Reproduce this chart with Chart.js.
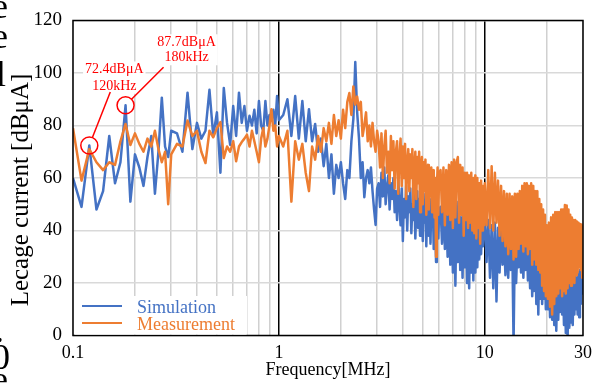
<!DOCTYPE html>
<html>
<head>
<meta charset="utf-8">
<script src="https://cdn.jsdelivr.net/npm/chart.js@4.4.1/dist/chart.umd.min.js"></script>
<style>
html,body{margin:0;padding:0;background:#fff;}
#wrap{position:relative;width:604px;height:385px;overflow:hidden;background:#fff;}
#c{position:absolute;left:0;top:0;}
.frag{position:absolute;font-family:"Liberation Serif",serif;font-size:36px;line-height:36px;color:#000;white-space:nowrap;}
</style>
</head>
<body>
<div id="wrap">
<canvas id="c" width="604" height="385"></canvas>
<span class="frag" style="left:-8px;top:-12px">e</span>
<span class="frag" style="left:-8px;top:18px">e</span>
<span class="frag" style="left:-4px;top:56px">l</span>
<span class="frag" style="left:-5px;top:312px">.</span>
<span class="frag" style="left:-8px;top:339px">0</span>
<span class="frag" style="left:-8px;top:361px">e</span>
</div>
<script>
// ---------------- data ----------------
const seriesNames = ['Simulation', 'Measurement'];

const freqA = [0.10,0.11,0.12,0.13,0.14,0.15,0.16,0.17,0.18,0.19,0.20,0.21,0.22,0.23,0.24,0.25,0.26,0.27,0.28,0.29,0.30];
const simA  = [60,49,72.4,48,55,76,58,66,87.7,51,69,64,57,68,76,54,70,90.6,72,68,78];
const measA = [79,59,71,66,63,66,65,74,80.6,72.6,77,73,70,75,72,78,71,66,70,50,69];

const freqB = [0.32,0.34,0.36,0.38,0.40,0.42,0.44,0.46,0.48,0.50,0.52,0.54,0.56,0.58,0.60,0.62,0.64,0.66,0.68,0.70,0.72,0.74,0.76,0.78,0.80,0.82,0.84,0.86,0.88,0.90,0.92,0.94,0.96,0.98,1.00];
const simB  = [77,70,92.5,71,81,75,78,93.6,76,85,62,94.3,81,72.6,87.4,76,92.5,81,87.4,78,83.7,80,86,77,89.3,80,78,89.3,80,84,82,86,80,91.2,82];
const measB = [73,72,81.9,76,78,70,65.7,78,75.5,79,81.3,67.6,72,70,74,66.4,72,73.7,75,76.5,72,78,74,70,66,75,79,72,75,80,86.2,78,80,72,76];

const freqC = [1.05,1.10,1.15,1.20,1.25,1.30,1.35,1.40,1.45,1.50,1.55,1.60,1.65,1.70,1.75,1.80,1.85,1.90,1.95,2.00,2.05,2.10,2.15,2.20,2.25,2.30,2.35,2.40,2.45,2.50,2.55,2.60,2.65,2.70,2.75,2.80,2.85,2.90,2.95,3.00];
const simC  = [84,90,76,91.2,75,89.3,74,86.2,74,80.6,70,75,64.5,73,60,69,54,65,60,66,58,52,63,60,74,82.5,104.2,85,75,60,66,52.7,60,63,58,64,55,48,42.1,56];
const measC = [72,78,51,74,67,73,62,55,72,67,76,70,79,74,81,73,84,76,82,75,86,79,89,92.4,84,94.9,88,91,86,89,76,80,85,74,80,72,81,74,70,78];

const freqD = [3.05,3.10,3.15,3.20,3.25,3.30,3.35,3.40,3.45,3.50,3.55,3.60,3.65,3.70,3.75,3.80,3.85,3.90,3.95,4.00,
               4.05,4.10,4.15,4.20,4.25,4.30,4.35,4.40,4.45,4.50,4.55,4.60,4.65,4.70,4.75,4.80,4.85,4.90,4.95,5.00,
               5.05,5.10,5.15,5.20,5.25,5.30,5.35,5.40,5.45,5.50,5.55,5.60,5.65,5.70,5.75,5.80,5.85,5.90,5.95,6.00];
const simD  = [58,49,62,53,64,50,57,61,48,58,52,60,47,55,44,59,50,42,56,36,
               52,45,57,40,53,47,56,39,50,44,54,37,49,55,41,52,38,48,53,36,
               50,43,54,34,48,51,38,50,35,52,42,48,33,50,40,28,47,51,37,48];
const measD = [74,64,77,60,72,78,62,70,58,76,63,74,56,70,74,54,68,75,57,72,
               60,73,52,66,71,55,69,60,71,49,64,70,52,68,58,70,47,63,68,50,
               66,55,67,46,60,65,48,62,53,64,47,58,63,45,60,30,56,64,46,62];

const freqE = [6.1,6.2,6.3,6.4,6.5,6.6,6.7,6.8,6.9,7.0,7.1,7.2,7.3,7.4,7.5,7.6,7.7,7.8,7.9,8.0,8.1,8.2,8.3,8.4,8.5,8.6,8.7,8.8,8.9,9.0,9.1,9.2,9.3,9.4,9.5,9.6,9.7,9.8,9.9];
const simE  = [49,35,54,33,48,30,52,27,50,24, 47,19,51,28,49,25,45,22,48,26, 46,20,44,18,47,24,43,21,45,24, 42,26,46,29,43,31,45,34,44];
const measE = [63,47,64,42,63,46,65,44,66,41, 67,45,66,68,43,65,46,64,38,62, 44,62,41,61,43,62,40,60,39,61, 37,60,41,58,35,59,40,57,42];

const freqF = [10.0,10.2,10.4,10.6,10.8,11.0,11.2,11.4,11.6,11.8,12.0,12.2,12.4,12.6,12.8,13.0,13.2,13.4,13.6,13.8,14.0,14.2,14.4,14.6,14.8,15.0,15.2,15.4,15.6,15.8,16.0,16.2,16.4,16.6,16.8,17.0,17.2,17.4,17.6,17.8,18.0,18.2,18.4,18.6,18.8,19.0,19.2,19.4,19.6,19.8];
const simF  = [46,28,44,22,42,18,43,13,41,24, 40,27,38,23,39,22,37,25,35,-3, 36,20,34,26,37,24,38,22,36,25, 37,21,35,18,34,15,33,17,31,12, 30,8,29,14,27,12,26,14,24,10];
const measF = [58,42,63,41,64.5,40,62,43,59,38, 57,36,55,34,54,31,54,33,53,29, 54,30,54,33,55,35,57,32,58,34, 58,31,57,33,58,27,57,29,55,27, 55,25,52,24,50,19,48,17,46,15];

const freqG = [20.00,20.25,20.50,20.75,21.00,21.25,21.50,21.75,22.00,22.25,22.50,22.75,23.00,23.25,23.50,23.75,24.00,24.25,24.50,24.75,25.00,25.25,25.50,25.75,26.00,26.25,26.50,26.75,27.00,27.25,27.50,27.75,28.00,28.25,28.50,28.75,29.00,29.25,29.50,29.75,30.00];
const simG  = [24,10,23,7,22,6,24,4,22,1.8, 21,6,20,9,21,8,19,4,20,1, 18,-2,20,3,22,5,21,4,22,8, 23,10,22,8,24,7,25,12,23,16,22];
const measG = [42,14,43,11,45,8,46,12,47,15, 47,16,47,18,48,15,48,17,49.7,16, 49.5,18,48,20,46,19,45,21,44,20, 44,23,43.4,24,43,26,42.5,25,42.3,22,42];

const xTickValues = [0.1,0.2,0.3,0.4,0.5,0.6,0.7,0.8,0.9,1,2,3,4,5,6,7,8,9,10,20,30];
const xMajorLines = [1,10];
const xLabelValues = [0.1,1,10,30];
const xLabelTexts = ['0.1','1','10','30'];
const yTickValues = [0,20,40,60,80,100,120];

const annFreq = [0.12, 0.18];
const annValue = [72.4, 87.7];
const annText = [['72.4dBμA','120kHz'], ['87.7dBμA','180kHz']];

const xTitle = 'Frequency[MHz]';
const yTitle = 'Lecage current [dBμA]';

// ---------------- build ----------------
const freq = [].concat(freqA, freqB, freqC, freqD, freqE, freqF, freqG);
const sim  = [].concat(simA, simB, simC, simD, simE, simF, simG);
const meas = [].concat(measA, measB, measC, measD, measE, measF, measG);
const simPts = freq.map((f, i) => ({x: f, y: sim[i]}));
const measPts = freq.map((f, i) => ({x: f, y: meas[i]}));

const BLUE = '#4472C4', ORANGE = '#ED7D31', RED = '#FF0000';
const SERIF = '"Liberation Serif", "Times New Roman", serif';

const overlay = {
  id: 'overlay',
  afterDatasetsDraw(chart) {
    const {ctx, chartArea: a, scales} = chart;
    const xs = scales.x, ys = scales.y;
    ctx.save();
    ctx.strokeStyle = '#000';
    ctx.lineWidth = 1.5;
    ctx.strokeRect(a.left, a.top, a.right - a.left, a.bottom - a.top);

    // legend
    ctx.fillStyle = '#fff';
    ctx.fillRect(a.left + 2, a.bottom - 39.5, 172, 38.5);
    const legColors = [BLUE, ORANGE];
    const legLineY = [a.bottom - 29.5, a.bottom - 12.5];
    const legTextY = [a.bottom - 22.5, a.bottom - 5.5];
    ctx.font = '18px ' + SERIF;
    ctx.textAlign = 'left';
    ctx.textBaseline = 'alphabetic';
    seriesNames.forEach((n, i) => {
      ctx.strokeStyle = legColors[i];
      ctx.lineWidth = 1.8;
      ctx.beginPath();
      ctx.moveTo(a.left + 9, legLineY[i]);
      ctx.lineTo(a.left + 49, legLineY[i]);
      ctx.stroke();
      ctx.fillStyle = legColors[i];
      ctx.fillText(n, a.left + 64, legTextY[i]);
    });

    // annotations
    const textDx = [25, 61];
    const textDy = [[-72, -55.7], [-59, -44]];
    const lineEnd = [[21, -53.5], [38, -38]];
    const r = 8.5;
    ctx.font = '14px ' + SERIF;
    annFreq.forEach((f, i) => {
      const cx = xs.getPixelForValue(f), cy = ys.getPixelForValue(annValue[i]);
      const tx = cx + textDx[i];
      const w = Math.max(...annText[i].map(t => ctx.measureText(t).width));
      ctx.fillStyle = '#fff';
      ctx.fillRect(tx - w / 2 - 2, cy + textDy[i][0] - 12, w + 4, (textDy[i][1] - textDy[i][0]) + 16);
      const ex = cx + lineEnd[i][0], ey = cy + lineEnd[i][1];
      const d = Math.hypot(ex - cx, ey - cy);
      ctx.strokeStyle = RED;
      ctx.lineWidth = 1.5;
      ctx.beginPath();
      ctx.moveTo(cx + (ex - cx) / d * r, cy + (ey - cy) / d * r);
      ctx.lineTo(ex, ey);
      ctx.stroke();
      ctx.beginPath();
      ctx.arc(cx, cy, r, 0, Math.PI * 2);
      ctx.stroke();
      ctx.fillStyle = RED;
      ctx.textAlign = 'center';
      ctx.textBaseline = 'alphabetic';
      annText[i].forEach((t, k) => ctx.fillText(t, tx, cy + textDy[i][k]));
    });

    // axis titles
    ctx.fillStyle = '#000';
    ctx.font = '18px ' + SERIF;
    ctx.textAlign = 'center';
    ctx.textBaseline = 'alphabetic';
    ctx.fillText(xTitle, (a.left + a.right) / 2, 375);
    ctx.save();
    ctx.translate(21, 190);
    ctx.rotate(-Math.PI / 2);
    ctx.font = '25px ' + SERIF;
    ctx.textBaseline = 'middle';
    ctx.fillText(yTitle, 0, 0);
    ctx.restore();
    ctx.restore();
  }
};

new Chart(document.getElementById('c'), {
  type: 'line',
  data: {
    datasets: [
      {label: seriesNames[0], data: simPts, borderColor: BLUE, backgroundColor: BLUE, borderWidth: 2.5,
       pointRadius: 0, tension: 0, borderJoinStyle: 'round', order: 1, clip: 0},
      {label: seriesNames[1], data: measPts, borderColor: ORANGE, backgroundColor: ORANGE, borderWidth: 2.5,
       pointRadius: 0, tension: 0, borderJoinStyle: 'round', order: 0, clip: 0}
    ]
  },
  options: {
    responsive: false,
    animation: false,
    devicePixelRatio: 1,
    layout: {padding: {left: 0, right: 21, top: 9, bottom: 0}},
    plugins: {legend: {display: false}, tooltip: {enabled: false}, title: {display: false}},
    scales: {
      x: {
        type: 'logarithmic', min: 0.1, max: 30,
        afterBuildTicks: s => { s.ticks = xTickValues.map(v => ({value: v})); },
        afterFit: s => { s.height = 49.5; },
        ticks: {
          autoSkip: false, maxRotation: 0, minRotation: 0, padding: 9, color: '#000',
          font: {family: SERIF, size: 18, lineHeight: 1},
          callback: v => { const k = xLabelValues.indexOf(v); return k >= 0 ? xLabelTexts[k] : ''; }
        },
        grid: {
          drawTicks: false, lineWidth: 1.5,
          color: c => (c.tick && xMajorLines.indexOf(c.tick.value) >= 0) ? '#000' : '#d0d0d0'
        },
        border: {display: false}
      },
      y: {
        min: 0, max: 120,
        afterBuildTicks: s => { s.ticks = yTickValues.map(v => ({value: v})); },
        afterFit: s => { s.width = 73; },
        ticks: {padding: 11, color: '#000', font: {family: SERIF, size: 19, lineHeight: 1}},
        grid: {drawTicks: false, lineWidth: 1.5, color: '#d9d9d9'},
        border: {display: false}
      }
    }
  },
  plugins: [overlay]
});
</script>
</body>
</html>
